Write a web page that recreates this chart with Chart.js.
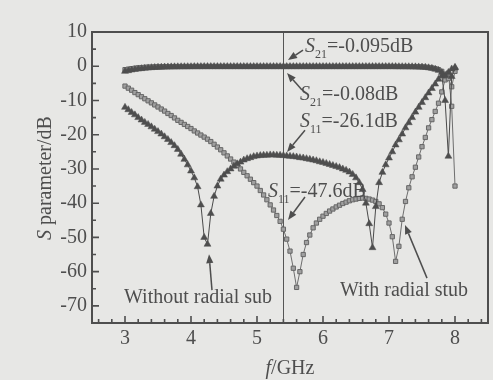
<!DOCTYPE html>
<html><head><meta charset="utf-8">
<script src="https://cdn.jsdelivr.net/npm/chart.js@4"></script>
<style>html,body{margin:0;padding:0;background:#e7e7e5;}canvas{display:block;}</style>
</head><body>
<canvas id="c" width="493" height="380"></canvas>
<script>
// ---- data ----
const freq = [
 3,3.05,3.1,3.15,3.2,3.25,3.3,3.35,3.4,3.45,
 3.5,3.55,3.6,3.65,3.7,3.75,3.8,3.85,3.9,3.95,
 4,4.05,4.1,4.15,4.2,4.25,4.3,4.35,4.4,4.45,
 4.5,4.55,4.6,4.65,4.7,4.75,4.8,4.85,4.9,4.95,
 5,5.05,5.1,5.15,5.2,5.25,5.3,5.35,5.4,5.45,
 5.5,5.55,5.6,5.65,5.7,5.75,5.8,5.85,5.9,5.95,
 6,6.05,6.1,6.15,6.2,6.25,6.3,6.35,6.4,6.45,
 6.5,6.55,6.6,6.65,6.7,6.75,6.8,6.85,6.9,6.95,
 7,7.05,7.1,7.15,7.2,7.25,7.3,7.35,7.4,7.45,
 7.5,7.55,7.6,7.65,7.7,7.75,7.8,7.85,7.9,7.95,
 8];
const s11Without = [
 -12,-12.7,-13.5,-14.2,-15,-15.7,-16.4,-17,-17.7,-18.4,
 -19.1,-19.8,-20.6,-21.4,-22.3,-23.2,-24.3,-25.7,-27.2,-28.8,
 -30.6,-32.6,-35.2,-40.5,-50,-52,-43,-38,-35,-33,
 -31.8,-30.8,-30,-29.2,-28.5,-28,-27.4,-27,-26.7,-26.4,
 -26.2,-26.1,-26,-26,-25.9,-25.9,-26,-26,-26.1,-26.2,
 -26.3,-26.4,-26.5,-26.7,-26.8,-27,-27.2,-27.4,-27.6,-27.9,
 -28.1,-28.4,-28.7,-29,-29.3,-29.6,-30,-30.4,-30.9,-31.6,
 -32.6,-34,-36,-40,-46,-53,-41,-34,-31,-28.8,
 -26.8,-25,-23,-21.5,-19.8,-18,-16.5,-15,-13.4,-12,
 -10.6,-9.2,-7.8,-6.5,-5.2,-3.8,-2.8,-10,-26.3,-3,
 -0.5];
const s11With = [
 -5.8,-6.4,-7,-7.7,-8.3,-8.9,-9.5,-10.1,-10.7,-11.3,
 -11.9,-12.5,-13.1,-13.8,-14.4,-15.1,-15.8,-16.4,-17,-17.6,
 -18.2,-18.9,-19.5,-20.1,-20.7,-21.3,-22,-22.8,-23.6,-24.4,
 -25.3,-26.2,-27.1,-28,-29,-30,-31,-32,-33,-34,
 -35,-36.3,-37.6,-39,-40.5,-42,-43.6,-45.3,-47.6,-50.5,
 -54,-59,-64.6,-60,-55,-51.5,-49.3,-47.2,-45.8,-44.7,
 -43.8,-43,-42.3,-41.7,-41.1,-40.6,-40.1,-39.7,-39.3,-39,
 -38.8,-38.6,-38.5,-38.6,-38.8,-39.1,-39.5,-40.2,-41.3,-43.2,
 -45.8,-49.8,-57,-52.6,-44.7,-39.5,-35.5,-32.3,-29.5,-26.5,
 -23.5,-20.8,-18,-15.6,-13.2,-10.8,-7.5,-4,-2,-11.7,
 -35];
const s21Without = [
 -1.5,-1.3,-1.1,-0.95,-0.8,-0.7,-0.6,-0.5,-0.42,-0.36,
 -0.3,-0.26,-0.22,-0.2,-0.18,-0.16,-0.15,-0.14,-0.13,-0.12,
 -0.12,-0.11,-0.11,-0.11,-0.1,-0.1,-0.1,-0.1,-0.1,-0.1,
 -0.1,-0.1,-0.1,-0.1,-0.1,-0.1,-0.1,-0.1,-0.1,-0.1,
 -0.1,-0.1,-0.1,-0.1,-0.1,-0.1,-0.1,-0.1,-0.095,-0.1,
 -0.1,-0.1,-0.1,-0.1,-0.1,-0.1,-0.1,-0.1,-0.1,-0.1,
 -0.1,-0.1,-0.1,-0.1,-0.1,-0.1,-0.1,-0.1,-0.1,-0.1,
 -0.1,-0.1,-0.1,-0.1,-0.1,-0.1,-0.1,-0.1,-0.1,-0.1,
 -0.1,-0.1,-0.11,-0.12,-0.12,-0.13,-0.14,-0.15,-0.17,-0.2,
 -0.25,-0.33,-0.45,-0.62,-0.85,-1.2,-1.8,-2.8,-1.8,-0.8,
 -0.3];
const s21With = [
 -1,-0.85,-0.7,-0.58,-0.48,-0.4,-0.33,-0.28,-0.24,-0.2,
 -0.17,-0.15,-0.13,-0.12,-0.11,-0.1,-0.1,-0.09,-0.09,-0.09,
 -0.08,-0.08,-0.08,-0.08,-0.08,-0.08,-0.08,-0.08,-0.08,-0.08,
 -0.08,-0.08,-0.08,-0.08,-0.08,-0.08,-0.08,-0.08,-0.08,-0.08,
 -0.08,-0.08,-0.08,-0.08,-0.08,-0.08,-0.08,-0.08,-0.08,-0.08,
 -0.08,-0.08,-0.08,-0.08,-0.08,-0.08,-0.08,-0.08,-0.08,-0.08,
 -0.08,-0.08,-0.08,-0.08,-0.08,-0.08,-0.08,-0.08,-0.08,-0.08,
 -0.08,-0.08,-0.08,-0.08,-0.08,-0.08,-0.08,-0.08,-0.08,-0.08,
 -0.08,-0.08,-0.09,-0.09,-0.1,-0.1,-0.11,-0.12,-0.14,-0.17,
 -0.2,-0.27,-0.37,-0.5,-0.7,-1,-1.5,-2.3,-3.6,-6,
 -1.5];
const xTicks = [3,4,5,6,7,8];
const yTicks = [10,0,-10,-20,-30,-40,-50,-60,-70];
const markerFreq = 5.4;

// ---- styling / annotations ----
const FONT = '"Liberation Serif", "Times New Roman", serif';
const INK = '#4e4e4e';
const notes = [
 {parts:[['S','i'],['21','sub'],['=-0.095dB','n']], at:[5.727,4.15],  arrow:[5.697,4.73,5.47,1.81]},
 {parts:[['S','i'],['21','sub'],['=-0.08dB','n']],  at:[5.652,-9.87], arrow:[5.682,-6.95,5.455,-1.99]},
 {parts:[['S','i'],['11','sub'],['=-26.1dB','n']],  at:[5.652,-17.76],arrow:[5.727,-18.7,5.455,-25.06]},
 {parts:[['S','i'],['11','sub'],['=-47.6dB','n']],  at:[5.167,-38.2], arrow:[5.727,-38.2,5.47,-44.9]},
 {parts:[['Without radial sub','n']],               at:[2.985,-69.2], arrow:[4.318,-65.4,4.273,-54.9]},
 {parts:[['With radial stub','n']],                 at:[6.258,-67.1], arrow:[7.576,-61.9,7.242,-46.4]}
];

function pts(arr){ return freq.map((f,i)=>({x:f,y:arr[i]})); }

function drawParts(ctx, parts, x, y, size){
  let cx = x;
  for (const [t,kind] of parts){
    if (kind==='sub'){
      ctx.font = Math.round(size*0.62)+'px '+FONT;
      ctx.fillText(t, cx, y+size*0.28);
    } else {
      ctx.font = (kind==='i'?'italic ':'')+size+'px '+FONT;
      ctx.fillText(t, cx, y);
    }
    cx += ctx.measureText(t).width;
  }
  return cx-x;
}
function measureParts(ctx, parts, size){
  let w=0;
  for (const [t,kind] of parts){
    ctx.font = (kind==='sub'?Math.round(size*0.62)+'px ':(kind==='i'?'italic ':'')+size+'px ')+FONT;
    w += ctx.measureText(t).width;
  }
  return w;
}
function arrow(ctx,x1,y1,x2,y2){
  const ang = Math.atan2(y2-y1,x2-x1), L=9, W=3.6;
  const bx = x2-L*Math.cos(ang), by = y2-L*Math.sin(ang);
  ctx.beginPath(); ctx.moveTo(x1,y1); ctx.lineTo(bx,by); ctx.stroke();
  ctx.beginPath(); ctx.moveTo(x2,y2);
  ctx.lineTo(bx+W*Math.sin(ang), by-W*Math.cos(ang));
  ctx.lineTo(bx-W*Math.sin(ang), by+W*Math.cos(ang));
  ctx.closePath(); ctx.fill();
}

const deco = {
  id:'deco',
  beforeDraw(chart){
    const ctx=chart.ctx; ctx.save(); ctx.fillStyle='#e7e7e5';
    ctx.fillRect(0,0,chart.width,chart.height); ctx.restore();
  },
  beforeDatasetsDraw(chart){
    const {ctx, chartArea:a, scales:{x}} = chart;
    const px = Math.round(x.getPixelForValue(markerFreq))+0.5;
    ctx.save(); ctx.strokeStyle='#555'; ctx.lineWidth=1;
    ctx.beginPath(); ctx.moveTo(px,a.top); ctx.lineTo(px,a.bottom); ctx.stroke();
    ctx.restore();
  },
  afterDatasetsDraw(chart){
    const {ctx, chartArea:a, scales:{x,y}} = chart;
    ctx.save();
    ctx.strokeStyle=INK; ctx.fillStyle=INK;
    // frame
    ctx.lineWidth=2;
    ctx.strokeRect(a.left, a.top, a.right-a.left, a.bottom-a.top);
    // ticks
    ctx.lineWidth=1.6;
    ctx.beginPath();
    for (const v of yTicks){
      const py=y.getPixelForValue(v); ctx.moveTo(a.left,py); ctx.lineTo(a.left+7,py);
      const pm=y.getPixelForValue(v-5); if (v-5>y.min){ ctx.moveTo(a.left,pm); ctx.lineTo(a.left+4,pm); }
    }
    for (let k=Math.ceil(x.min*5); k<=Math.floor(x.max*5); k++){
      const v=k/5, px=x.getPixelForValue(v);
      const major = (k%5===0);
      if (px<=a.left+1||px>=a.right-1) continue;
      ctx.moveTo(px,a.bottom); ctx.lineTo(px,a.bottom-(major?7:4));
    }
    ctx.stroke();
    // annotations
    ctx.lineWidth=1.5;
    ctx.textBaseline='alphabetic'; ctx.textAlign='left';
    for (const n of notes){
      drawParts(ctx, n.parts, x.getPixelForValue(n.at[0]), y.getPixelForValue(n.at[1]), 20);
      arrow(ctx, x.getPixelForValue(n.arrow[0]), y.getPixelForValue(n.arrow[1]),
                 x.getPixelForValue(n.arrow[2]), y.getPixelForValue(n.arrow[3]));
    }
    // axis titles
    const yt=[['S','i'],[' parameter/dB','n']];
    const wy=measureParts(ctx,yt,20);
    ctx.save(); ctx.translate(51,178); ctx.rotate(-Math.PI/2);
    drawParts(ctx,yt,-wy/2,0,20); ctx.restore();
    const xt=[['f','i'],['/GHz','n']];
    const wx=measureParts(ctx,xt,20);
    drawParts(ctx,xt,(a.left+a.right)/2-wx/2,374,20);
    ctx.restore();
  }
};

const tickFont = {family:FONT, size:20};
new Chart(document.getElementById('c'), {
  type:'scatter',
  data:{datasets:[
    {label:'S21 without', data:pts(s21Without), showLine:true, borderColor:'#4a4a4a', borderWidth:1,
     pointStyle:'triangle', pointRadius:4, pointBackgroundColor:'#4e4e4e', pointBorderColor:'#4e4e4e', pointBorderWidth:0.5},
    {label:'S11 without', data:pts(s11Without), showLine:true, borderColor:'#4a4a4a', borderWidth:1,
     pointStyle:'triangle', pointRadius:4, pointBackgroundColor:'#4e4e4e', pointBorderColor:'#4e4e4e', pointBorderWidth:0.5},
    {label:'S21 with', data:pts(s21With), showLine:true, borderColor:'#6e6e6e', borderWidth:1,
     pointStyle:'rect', pointRadius:3, pointBackgroundColor:'#a0a0a0', pointBorderColor:'#666', pointBorderWidth:1},
    {label:'S11 with', data:pts(s11With), showLine:true, borderColor:'#6e6e6e', borderWidth:1,
     pointStyle:'rect', pointRadius:3, pointBackgroundColor:'#a0a0a0', pointBorderColor:'#666', pointBorderWidth:1}
  ]},
  options:{
    responsive:false, animation:false, devicePixelRatio:1,
    layout:{padding:{left:0,right:5,top:32,bottom:0}},
    plugins:{legend:{display:false}, tooltip:{enabled:false}},
    scales:{
      x:{type:'linear', min:2.5, max:8.5,
         afterBuildTicks:s=>{ s.ticks = xTicks.map(v=>({value:v})); },
         afterFit:s=>{ s.height=57; },
         grid:{display:false, drawTicks:false}, border:{display:false},
         ticks:{font:tickFont, color:INK, padding:4, maxRotation:0, autoSkip:false, callback:v=>String(v)}},
      y:{type:'linear', min:-75, max:10,
         afterBuildTicks:s=>{ s.ticks = yTicks.map(v=>({value:v})); },
         afterFit:s=>{ s.width=92; },
         grid:{display:false, drawTicks:false}, border:{display:false},
         ticks:{font:tickFont, color:INK, padding:5, autoSkip:false, callback:v=>String(v)}}
    }
  },
  plugins:[deco]
});
</script>
</body></html>
